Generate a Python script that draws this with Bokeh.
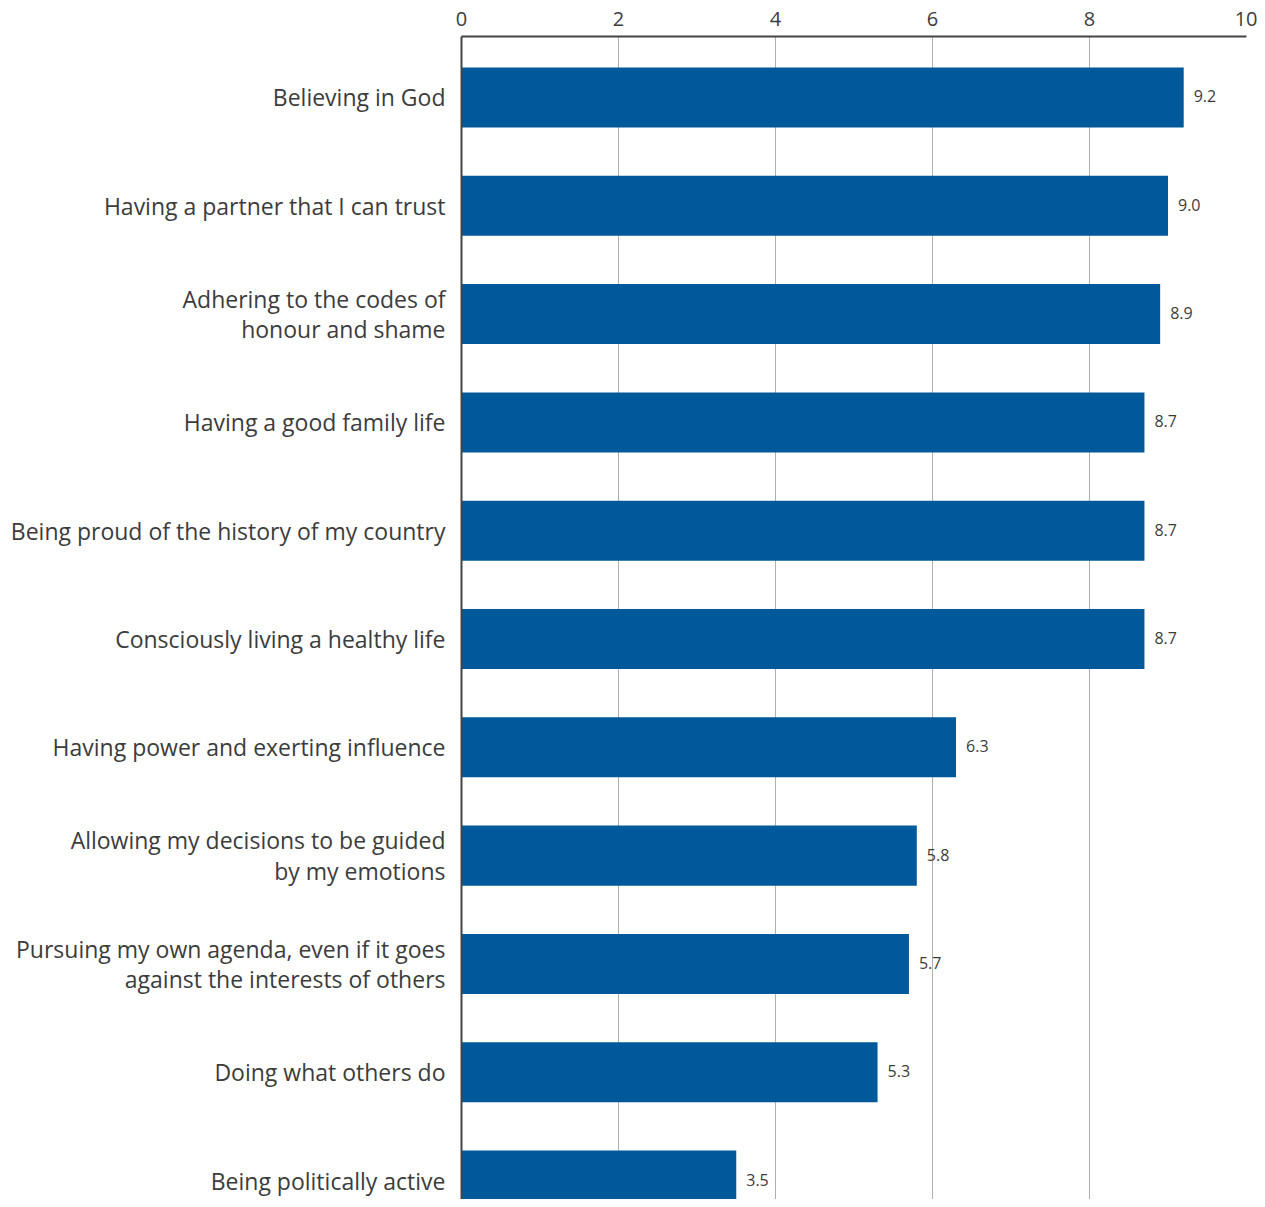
from bokeh.plotting import figure
from bokeh.models import Range1d, FixedTicker, ColumnDataSource
from bokeh.core.properties import value
from bokeh.embed import file_html
from bokeh.resources import INLINE

categories = [
    "Believing in God",
    "Having a partner that I can trust",
    "Adhering to the codes of\nhonour and shame",
    "Having a good family life",
    "Being proud of the history of my country",
    "Consciously living a healthy life",
    "Having power and exerting influence",
    "Allowing my decisions to be guided\nby my emotions",
    "Pursuing my own agenda, even if it goes\nagainst the interests of others",
    "Doing what others do",
    "Being politically active",
]
values = [9.2, 9.0, 8.9, 8.7, 8.7, 8.7, 6.3, 5.8, 5.7, 5.3, 3.5]
x_ticks = [0, 2, 4, 6, 8, 10]

idx = list(range(len(categories)))
labels = [f"{v:.1f}" for v in values]
src = ColumnDataSource(dict(y=idx, v=values, lab=labels))

FONT = "Open Sans"
TXT = "#3c3c3c"

p = figure(width=1257, height=1199, output_backend="svg", toolbar_location=None,
           x_range=Range1d(0, 10), y_range=Range1d(10.175, -0.563),
           x_axis_location="above", min_border_left=461, min_border_top=36,
           min_border_right=11, min_border_bottom=0)
p.outline_line_color = None
p.background_fill_color = "white"

p.hbar(y="y", right="v", left=0, height=0.554, source=src, color="#00599B", line_color=None)
p.text(x="v", y="y", text="lab", source=src, x_offset=10, y_offset=-1, text_baseline="middle",
       text_align="left", text_font=value(FONT), text_font_size="16px", text_color=TXT)

xa = p.xaxis[0]
xa.ticker = FixedTicker(ticks=x_ticks)
xa.major_tick_out = 0
xa.major_tick_in = 0
xa.minor_tick_out = 0
xa.minor_tick_in = 0
xa.axis_line_color = "#444444"
xa.axis_line_width = 2
xa.major_label_text_font = FONT
xa.major_label_text_font_size = "20px"
xa.major_label_text_color = TXT
xa.major_label_standoff = 11

ya = p.yaxis[0]
ya.ticker = FixedTicker(ticks=idx)
ya.major_label_overrides = {i: c for i, c in zip(idx, categories)}
ya.major_tick_out = 0
ya.major_tick_in = 0
ya.minor_tick_out = 0
ya.minor_tick_in = 0
ya.axis_line_color = "#444444"
ya.axis_line_width = 2
ya.major_label_text_font = FONT
ya.major_label_text_font_size = "23px"
ya.major_label_text_color = TXT
ya.major_label_text_line_height = 0.95
ya.major_label_standoff = 16

p.ygrid.visible = False
p.xgrid.ticker = FixedTicker(ticks=x_ticks)
p.xgrid.grid_line_color = "#b0b0b0"
p.xgrid.grid_line_width = 1

open("out.html", "w").write(file_html(p, INLINE))
